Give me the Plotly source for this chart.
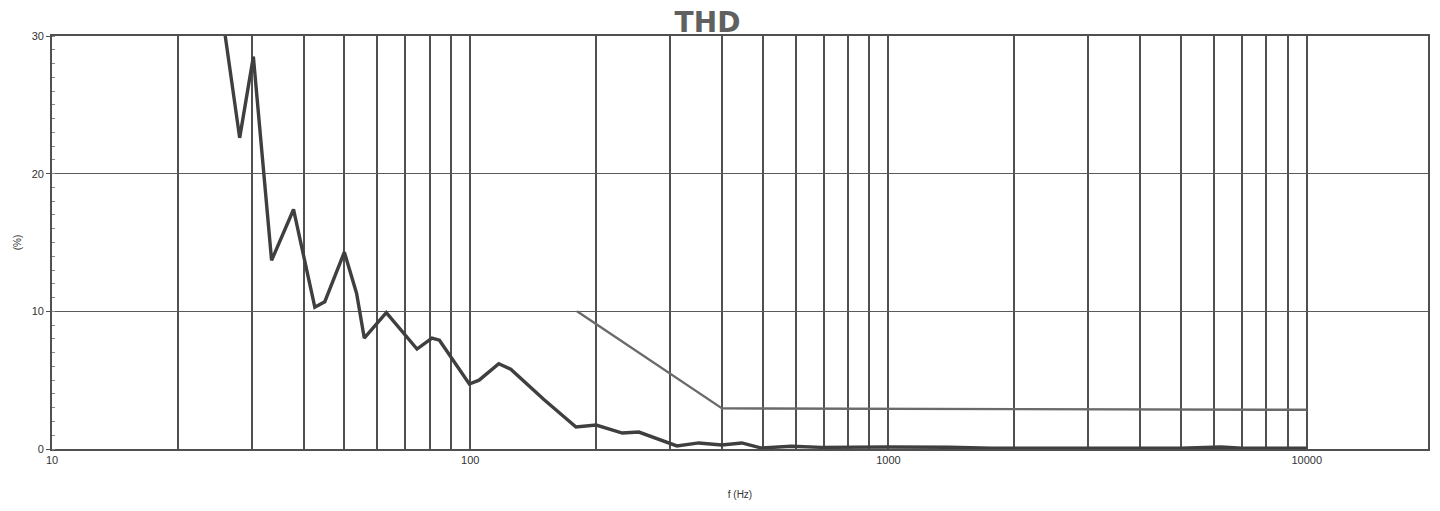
import plotly.graph_objects as go

freq_hz = [25, 28.1, 30.3, 33.5, 37.8, 42.5, 44.9, 50, 53.5, 55.8, 63, 74.6, 81, 84.4,
           99.5, 105, 117, 125, 150, 179, 200, 231, 253, 272, 312, 352, 399, 446, 497,
           586, 692, 1000, 1400, 1763, 3000, 5000, 6240, 7000, 10000]
thd_pct = [33.5, 22.6, 28.5, 13.7, 17.4, 10.3, 10.7, 14.3, 11.3, 8.06, 9.9, 7.26, 8.06, 7.9,
           4.72, 5.0, 6.2, 5.8, 3.6, 1.6, 1.74, 1.16, 1.23, 0.87, 0.22, 0.44, 0.29, 0.44, 0.07,
           0.2, 0.12, 0.15, 0.13, 0.05, 0.05, 0.06, 0.15, 0.05, 0.05]

# Limit line
limit_freq = [180, 400, 10000]
limit_pct = [10, 2.95, 2.85]

# Axis ticks / gridlines
grid_freqs = [10, 20, 30, 40, 50, 60, 70, 80, 90,
              100, 200, 300, 400, 500, 600, 700, 800, 900,
              1000, 2000, 3000, 4000, 5000, 6000, 7000, 8000, 9000, 10000]
decade_labels = {10: "10", 100: "100", 1000: "1000", 10000: "10000"}
y_ticks = [0, 10, 20, 30]

fig = go.Figure()
fig.add_trace(go.Scatter(x=limit_freq, y=limit_pct, mode="lines",
                         line=dict(color="#6a6a6a", width=2.4), showlegend=False))
fig.add_trace(go.Scatter(x=freq_hz, y=thd_pct, mode="lines",
                         line=dict(color="#3f3f3f", width=3.4), showlegend=False))

fig.update_layout(
    width=1440, height=511,
    margin=dict(l=52, r=10, t=36, b=62),
    paper_bgcolor="white", plot_bgcolor="white",
    font=dict(family="Liberation Sans", color="#333333"),
    title=dict(text="THD", x=686 / 1440, xanchor="center", xref="paper",
               y=1 - 22 / 511, yanchor="middle", yref="container",
               font=dict(family="DejaVu Sans", size=28, color="#606060", weight="bold")),
    xaxis=dict(
        type="log", range=[1, 4.29],
        tickvals=grid_freqs,
        ticktext=[decade_labels.get(f, "") for f in grid_freqs],
        showgrid=True, gridcolor="#505050", gridwidth=1.8,
        showline=True, linecolor="#505050", linewidth=1.8, mirror=True,
        ticks="", tickfont=dict(size=11, color="#333333"),
        title=dict(text="f (Hz)", font=dict(size=10, color="#333333"), standoff=26),
        zeroline=False,
    ),
    yaxis=dict(
        range=[0, 30], tickvals=y_ticks,
        showgrid=True, gridcolor="#5a5a5a", gridwidth=1.4,
        showline=True, linecolor="#505050", linewidth=1.8, mirror=True,
        ticks="outside", ticklen=4, tickcolor="#505050",
        tickfont=dict(size=11, color="#333333"),
        minor=dict(dtick=1, ticks="inside", ticklen=3, tickcolor="#888888", showgrid=False),
        title=dict(text="(%)", font=dict(size=10, color="#333333"), standoff=8),
        zeroline=False,
    ),
)

fig.write_html("out.html")
